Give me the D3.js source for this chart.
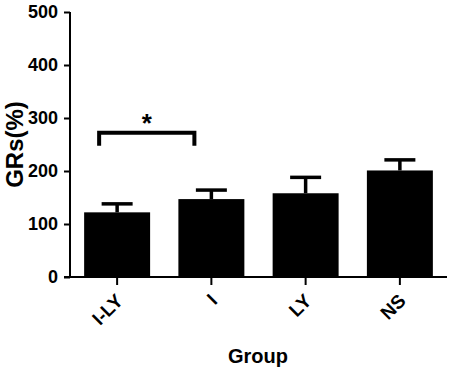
<!DOCTYPE html>
<html>
<head>
<meta charset="utf-8">
<script src="https://cdn.jsdelivr.net/npm/d3@7"></script>
<style>
  body { margin: 0; background: #fff; }
  text { font-family: "Liberation Sans", Arial, sans-serif; font-weight: bold; fill: #000; }
</style>
</head>
<body>
<div id="chart"></div>
<script>
// Data
const groups = ["I-LY", "I", "LY", "NS"];
const means = [122, 147, 158, 201];
const errors = [16, 17, 30, 20];
const yTicks = [0, 100, 200, 300, 400, 500];

// Layout
const margin = { top: 12, right: 3, bottom: 96, left: 70 },
    width = 450 - margin.left - margin.right,
    height = 373 - margin.top - margin.bottom;

const svg = d3.select("#chart")
    .append("svg")
    .attr("width", 450)
    .attr("height", 373)
    .append("g")
    .attr("transform", `translate(${margin.left},${margin.top})`);

const x = d3.scaleBand()
    .domain(groups)
    .range([0, width])
    .paddingInner(0.3)
    .paddingOuter(0.15);

const y = d3.scaleLinear()
    .domain([0, 500])
    .range([height, 0]);

// Bars
svg.selectAll(".bar")
    .data(groups)
    .enter()
    .append("rect")
    .attr("class", "bar")
    .attr("x", d => x(d))
    .attr("width", x.bandwidth())
    .attr("y", (d, i) => y(means[i]))
    .attr("height", (d, i) => height - y(means[i]))
    .style("fill", "#000");

// Error bars (upper only)
const capW = 31;
const err = svg.selectAll(".err")
    .data(groups)
    .enter()
    .append("g")
    .attr("class", "err");
err.append("line")
    .attr("x1", d => x(d) + x.bandwidth() / 2)
    .attr("x2", d => x(d) + x.bandwidth() / 2)
    .attr("y1", (d, i) => y(means[i]))
    .attr("y2", (d, i) => y(means[i] + errors[i]))
    .style("stroke", "#000")
    .style("stroke-width", 3.5);
err.append("line")
    .attr("x1", d => x(d) + x.bandwidth() / 2 - capW / 2)
    .attr("x2", d => x(d) + x.bandwidth() / 2 + capW / 2)
    .attr("y1", (d, i) => y(means[i] + errors[i]))
    .attr("y2", (d, i) => y(means[i] + errors[i]))
    .style("stroke", "#000")
    .style("stroke-width", 3.5);

// Significance bracket between I-LY and I
const bx1 = x("I-LY") + 15, bx2 = x("I") + 16;
const by = y(272);
svg.append("path")
    .attr("d", `M${bx1},${by + 13}V${by}H${bx2}V${by + 13}`)
    .style("fill", "none")
    .style("stroke", "#000")
    .style("stroke-width", 4);
svg.append("text")
    .attr("x", (bx1 + bx2) / 2)
    .attr("y", by - 1)
    .attr("text-anchor", "middle")
    .style("font-size", "26px")
    .text("*");

// Y axis
const yAxis = svg.append("g")
    .attr("class", "y-axis")
    .call(d3.axisLeft(y).tickValues(yTicks).tickSize(6).tickPadding(6));
yAxis.selectAll("text").style("font-size", "18px");

// X axis
const xAxis = svg.append("g")
    .attr("class", "x-axis")
    .attr("transform", `translate(0,${height})`)
    .call(d3.axisBottom(x).tickSize(8).tickSizeOuter(0));
xAxis.selectAll("text")
    .style("font-size", "19px")
    .attr("text-anchor", "end")
    .attr("dy", null)
    .attr("y", 0)
    .attr("transform", "translate(7,25) rotate(-45)");

svg.selectAll(".domain, .tick line")
    .style("stroke", "#000")
    .style("stroke-width", 2);
xAxis.select(".domain").attr("d", `M-6,0H${width}`);
yAxis.select(".domain").attr("d", `M0,0V${height}`);

// Axis titles
svg.append("text")
    .attr("text-anchor", "middle")
    .attr("transform", "rotate(-90)")
    .attr("x", -height / 2)
    .attr("y", -margin.left + 23)
    .style("font-size", "24px")
    .text("GRs(%)");

svg.append("text")
    .attr("text-anchor", "middle")
    .attr("x", 188)
    .attr("y", height + 86)
    .style("font-size", "20px")
    .text("Group");
</script>
</body>
</html>
